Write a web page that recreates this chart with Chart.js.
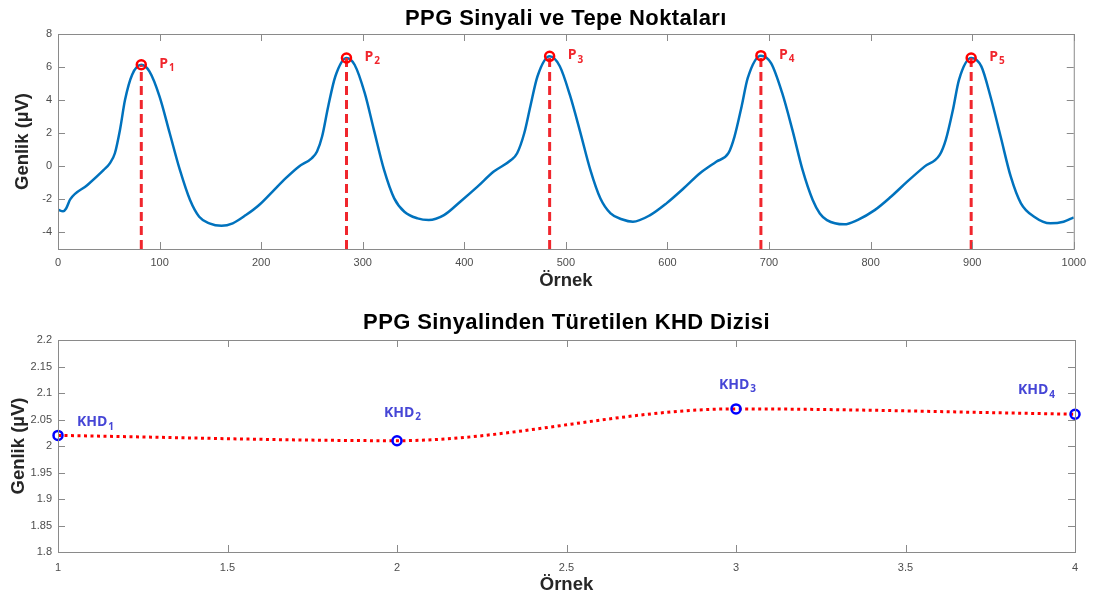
<!DOCTYPE html>
<html>
<head>
<meta charset="utf-8">
<script src="https://cdn.jsdelivr.net/npm/chart.js@4.4.0/dist/chart.umd.min.js"></script>
<style>
  body { margin: 0; background: #fff; }
  canvas { display: block; }
</style>
</head>
<body>
<canvas id="ppgChart" width="1093" height="300"></canvas>
<canvas id="khdChart" width="1093" height="297"></canvas>
<script>
// PPG signal (sample index -> amplitude in µV)
let ppgSamples = [0, 5, 8, 12, 29, 45, 51, 56, 61, 66, 73, 82, 90, 100, 110, 120, 130, 139, 149, 161,
  172, 185, 198, 211, 224, 237, 250, 255, 260, 266, 273, 284, 292, 302, 311, 321, 331, 341, 354, 365,
  380, 396, 413, 429, 446, 452, 459, 465, 472, 484, 494, 504, 514, 524, 534, 544, 555, 566, 583, 599, 616,
  632, 648, 660, 666, 673, 679, 692, 702, 713, 723, 733, 743, 750, 757, 774, 787, 804, 820, 836, 853,
  868, 874, 881, 887, 899, 909, 918, 928, 938, 948, 961, 977, 990, 1000];
let ppgValues = [-2.62, -2.72, -2.55, -2.0, -1.13, -0.22, 0.18, 0.79, 2.2, 4.02, 5.54, 6.14, 5.74, 4.22, 2.0, -0.22, -2.04, -3.05, -3.45, -3.6,
  -3.45, -2.95, -2.34, -1.54, -0.73, -0.02, 0.5, 0.9, 1.8, 3.62, 5.43, 6.55, 6.14, 4.42, 2.2, -0.22, -1.94, -2.75, -3.15, -3.25,
  -2.95, -2.14, -1.23, -0.32, 0.38, 0.79, 2.0, 3.62, 5.43, 6.65, 6.05, 4.3, 2.1, -0.2, -1.95, -2.85, -3.2, -3.35, -2.95, -2.24, -1.33,
  -0.42, 0.28, 0.79, 1.8, 3.62, 5.33, 6.69, 6.24, 4.42, 2.2, -0.22, -2.04, -2.85, -3.25, -3.51, -3.25, -2.65, -1.84, -0.93, -0.02,
  0.69, 1.6, 3.41, 5.23, 6.55, 6.04, 4.22, 1.8, -0.63, -2.24, -3.05, -3.45, -3.35, -3.09];

let peakSamples = [82, 284, 484, 692, 899];
let peakValues = [6.14, 6.55, 6.65, 6.69, 6.55];
let peakNames = ["1", "2", "3", "4", "5"];

let ppgXTicks = [0, 100, 200, 300, 400, 500, 600, 700, 800, 900, 1000];
let ppgYTicks = [-4, -2, 0, 2, 4, 6, 8];

// KHD series
let khdSamples = [1, 2, 3, 4];
let khdValues = [2.02, 2.01, 2.07, 2.06];
let khdNames = ["1", "2", "3", "4"];

let khdXTicks = [1, 1.5, 2, 2.5, 3, 3.5, 4];
let khdYTicks = [1.8, 1.85, 1.9, 1.95, 2, 2.05, 2.1, 2.15, 2.2];

const TICK_FONT = { family: "'Liberation Sans', Arial", size: 11 };
const AXIS_FONT = { family: "'Liberation Sans', Arial", size: 18.5, weight: "bold" };

// matlab style box with inward ticks on all four sides
const boxTicks = {
  id: "boxTicks",
  afterDraw(chart) {
    const { ctx, chartArea: a } = chart;
    const xs = chart.scales.x, ys = chart.scales.y;
    ctx.save();
    ctx.strokeStyle = "#8a8a8a";
    ctx.lineWidth = 1;
    ctx.strokeRect(a.left + 0.5, a.top + 0.5, a.right - a.left, a.bottom - a.top);
    ctx.beginPath();
    xs.ticks.forEach(t => {
      const x = Math.round(xs.getPixelForValue(t.value)) + 0.5;
      ctx.moveTo(x, a.bottom); ctx.lineTo(x, a.bottom - 7);
      ctx.moveTo(x, a.top); ctx.lineTo(x, a.top + 7);
    });
    ys.ticks.forEach(t => {
      const y = Math.round(ys.getPixelForValue(t.value)) + 0.5;
      ctx.moveTo(a.left, y); ctx.lineTo(a.left + 7, y);
      ctx.moveTo(a.right, y); ctx.lineTo(a.right - 7, y);
    });
    ctx.stroke();
    ctx.restore();
  }
};

// title centred over the plot box, not the canvas
const areaTitle = {
  id: "areaTitle",
  afterDraw(chart, args, opts) {
    const { ctx, chartArea: a } = chart;
    ctx.save();
    ctx.font = "bold 22px 'Liberation Sans', Arial";
    ctx.letterSpacing = "0.4px";
    ctx.fillStyle = "#000";
    ctx.textAlign = "center";
    ctx.textBaseline = "middle";
    ctx.fillText(opts.text, (a.left + a.right) / 2, opts.y);
    ctx.restore();
  }
};

function drawSubLabel(ctx, base, sub, x, y, color, size) {
  ctx.save();
  ctx.fillStyle = color;
  ctx.textBaseline = "middle";
  ctx.textAlign = "left";
  ctx.font = `bold ${size}px 'Open Sans'`;
  ctx.fillText(base, x, y);
  let w = ctx.measureText(base).width;
  ctx.font = `bold ${Math.round(size * 0.72)}px 'Open Sans'`;
  ctx.fillText(sub, x + w + 1, y + size * 0.32);
  ctx.restore();
}

const peakLabels = {
  id: "peakLabels",
  afterDraw(chart) {
    const xs = chart.scales.x, ys = chart.scales.y;
    for (let i = 0; i < peakSamples.length; i++) {
      let px = xs.getPixelForValue(peakSamples[i]);
      let py = ys.getPixelForValue(peakValues[i]);
      drawSubLabel(chart.ctx, "P", peakNames[i], px + 18, py - 1, "#f0262d", 14);
    }
  }
};

// pixel offsets of each KHD label from its point
let khdLabelOffsets = [[19, -13], [-13, -28], [-17, -24], [-57, -24]];

const khdLabels = {
  id: "khdLabels",
  afterDraw(chart) {
    const xs = chart.scales.x, ys = chart.scales.y;
    for (let i = 0; i < khdSamples.length; i++) {
      let px = xs.getPixelForValue(khdSamples[i]);
      let py = ys.getPixelForValue(khdValues[i]);
      drawSubLabel(chart.ctx, "KHD", khdNames[i], px + khdLabelOffsets[i][0], py + khdLabelOffsets[i][1], "#4646d6", 14);
    }
  }
};

function makeScales(xr, xTicks, yr, yTicks, s) {
  return {
    x: {
      type: "linear", min: xr[0], max: xr[1],
      afterBuildTicks: sc => { sc.ticks = xTicks.map(v => ({ value: v })); },
      afterFit: sc => { sc.height = s.xHeight; },
      grid: { display: false, drawTicks: false },
      border: { display: false },
      ticks: { font: TICK_FONT, color: "#4d4d4d", padding: s.xPad, maxRotation: 0, autoSkip: false,
        callback: v => String(+v.toFixed(2)) },
      title: { display: true, text: "Örnek", font: AXIS_FONT, color: "#262626", padding: { top: 0, bottom: s.xTitlePad } }
    },
    y: {
      type: "linear", min: yr[0], max: yr[1],
      afterBuildTicks: sc => { sc.ticks = yTicks.map(v => ({ value: v })); },
      afterFit: sc => { sc.width = 58; },
      grid: { display: false, drawTicks: false },
      border: { display: false },
      ticks: { font: TICK_FONT, color: "#4d4d4d", padding: 6,
        callback: v => String(+v.toFixed(2)) },
      title: { display: true, text: "Genlik (µV)", font: AXIS_FONT, color: "#262626", padding: { top: s.yTitlePad, bottom: 0 } }
    }
  };
}

// top chart
let ppgPoints = ppgSamples.map((s, i) => ({ x: s, y: ppgValues[i] }));
let peakPoints = peakSamples.map((s, i) => ({ x: s, y: peakValues[i] }));

let ppgDatasets = [{
  data: peakPoints,
  showLine: false,
  pointRadius: 4.5,
  pointBorderWidth: 2.5,
  pointBorderColor: "#ff0000",
  pointBackgroundColor: "rgba(0,0,0,0)",
  clip: false
}];
for (let i = 0; i < peakSamples.length; i++) {
  ppgDatasets.push({
    data: [{ x: peakSamples[i], y: -5 }, { x: peakSamples[i], y: peakValues[i] }],
    borderColor: "#f0262d",
    borderWidth: 3,
    borderDash: [9, 5],
    pointRadius: 0
  });
}
ppgDatasets.push({
  data: ppgPoints,
  borderColor: "#0072bd",
  borderWidth: 2.5,
  pointRadius: 0,
  cubicInterpolationMode: "monotone"
});

new Chart(document.getElementById("ppgChart"), {
  type: "line",
  data: { datasets: ppgDatasets },
  options: {
    responsive: false,
    animation: false,
    layout: { padding: { left: 0, right: 17, top: 34, bottom: 0 } },
    plugins: {
      legend: { display: false },
      tooltip: { enabled: false },
      areaTitle: { text: "PPG Sinyali ve Tepe Noktaları", y: 19 }
    },
    scales: makeScales([0, 1000], ppgXTicks, [-5, 8], ppgYTicks, { xHeight: 51, xPad: 7, xTitlePad: 8, yTitlePad: 12 })
  },
  plugins: [boxTicks, peakLabels, areaTitle]
});

// bottom chart
let khdPoints = khdSamples.map((s, i) => ({ x: s, y: khdValues[i] }));

new Chart(document.getElementById("khdChart"), {
  type: "line",
  data: {
    datasets: [{
      data: khdPoints,
      showLine: false,
      pointRadius: 4.5,
      pointBorderWidth: 2.5,
      pointBorderColor: "#0000ff",
      pointBackgroundColor: "rgba(0,0,0,0)",
      clip: false
    }, {
      data: khdPoints,
      borderColor: "#ff0000",
      borderWidth: 3,
      borderDash: [3, 3.5],
      pointRadius: 0,
      cubicInterpolationMode: "monotone"
    }]
  },
  options: {
    responsive: false,
    animation: false,
    layout: { padding: { left: 0, right: 18, top: 40, bottom: 0 } },
    plugins: {
      legend: { display: false },
      tooltip: { enabled: false },
      areaTitle: { text: "PPG Sinyalinden Türetilen KHD Dizisi", y: 23 }
    },
    scales: makeScales([1, 4], khdXTicks, [1.8, 2.2], khdYTicks, { xHeight: 45, xPad: 9, xTitlePad: 1, yTitlePad: 8 })
  },
  plugins: [boxTicks, khdLabels, areaTitle]
});
</script>
</body>
</html>
